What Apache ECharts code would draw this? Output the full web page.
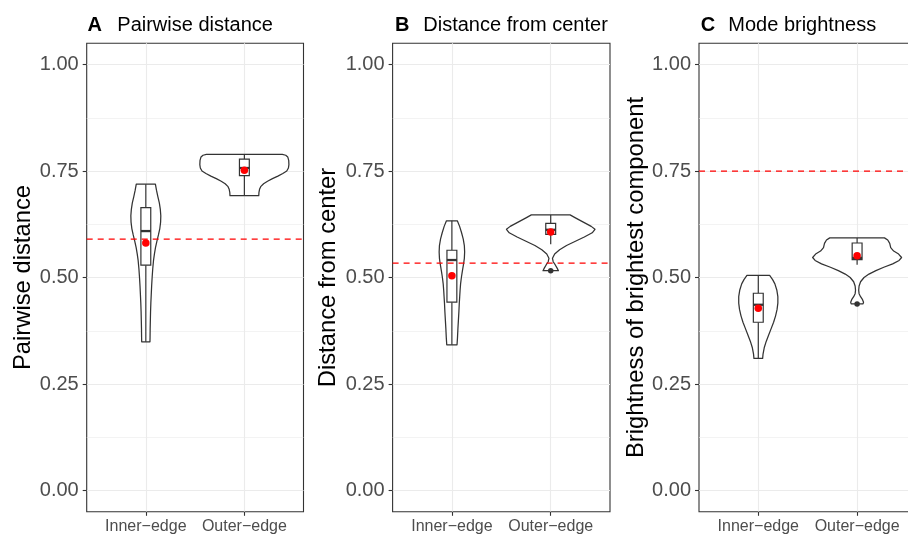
<!DOCTYPE html>
<html><head><meta charset="utf-8">
<script src="https://cdn.jsdelivr.net/npm/echarts@6/dist/echarts.min.js"></script>
<style>html,body{margin:0;padding:0;background:#fff}#c{width:908px;height:534px}</style>
</head><body><div id="c"></div>
<script>
// ---------------- data ----------------
const categories = ['Inner\u2212edge', 'Outer\u2212edge'];
const yTicks = [0, 0.25, 0.5, 0.75, 1];
const yMinorTicks = [0.125, 0.375, 0.625, 0.875];
const panelLetters = ['A', 'B', 'C'];
const panelTitles = ['Pairwise distance', 'Distance from center', 'Mode brightness'];
const yAxisNames = ['Pairwise distance', 'Distance from center', 'Brightness of brightest component'];
const refLines = [0.59, 0.534, 0.75];

// violin outlines: y values and density half-widths (in category units)
const violinA_inner_y = [0.719,0.705,0.69,0.675,0.66,0.645,0.63,0.615,0.60,0.585,0.57,0.555,0.54,0.52,0.50,0.48,0.46,0.44,0.42,0.40,0.38,0.36,0.349];
const violinA_inner_w = [0.097,0.108,0.122,0.137,0.147,0.152,0.150,0.142,0.128,0.112,0.098,0.087,0.078,0.070,0.064,0.059,0.055,0.051,0.048,0.046,0.044,0.043,0.042];
const violinA_outer_y = [0.789,0.787,0.783,0.775,0.765,0.757,0.75,0.744,0.738,0.732,0.726,0.72,0.714,0.707,0.70,0.692];
const violinA_outer_w = [0.385,0.42,0.44,0.45,0.452,0.447,0.43,0.39,0.34,0.285,0.235,0.195,0.168,0.154,0.148,0.146];
const violinB_inner_y = [0.633,0.62,0.605,0.59,0.575,0.56,0.545,0.53,0.515,0.50,0.485,0.47,0.455,0.44,0.42,0.40,0.38,0.36,0.342];
const violinB_inner_w = [0.055,0.078,0.098,0.115,0.126,0.129,0.126,0.117,0.106,0.096,0.088,0.083,0.079,0.075,0.071,0.066,0.061,0.057,0.052];
const violinB_outer_y = [0.647,0.64,0.63,0.62,0.613,0.605,0.595,0.585,0.575,0.565,0.555,0.545,0.537,0.53,0.522,0.516];
const violinB_outer_w = [0.196,0.25,0.33,0.41,0.448,0.42,0.34,0.25,0.16,0.09,0.04,0.018,0.025,0.045,0.065,0.078];
const violinC_inner_y = [0.505,0.495,0.485,0.47,0.455,0.44,0.425,0.41,0.395,0.38,0.365,0.35,0.335,0.32,0.31];
const violinC_inner_w = [0.115,0.145,0.168,0.188,0.198,0.198,0.19,0.175,0.155,0.13,0.105,0.08,0.06,0.048,0.044];
const violinC_outer_y = [0.593,0.588,0.58,0.57,0.562,0.555,0.547,0.54,0.532,0.524,0.516,0.508,0.50,0.49,0.48,0.47,0.462,0.455,0.448,0.442,0.438];
const violinC_outer_w = [0.277,0.31,0.33,0.34,0.37,0.42,0.45,0.425,0.36,0.27,0.19,0.12,0.07,0.035,0.02,0.016,0.02,0.035,0.055,0.065,0.06];

// box plots: [lower whisker, Q1, median, Q3, upper whisker]
const boxA = [[0.349,0.529,0.609,0.664,0.719],[0.692,0.739,0.757,0.778,0.788]];
const boxB = [[0.342,0.442,0.541,0.564,0.633],[0.578,0.601,0.612,0.627,0.647]];
const boxC = [[0.31,0.395,0.436,0.463,0.505],[0.53,0.542,0.546,0.581,0.593]];
// outliers: [category index (1-based), value]
const outliersA = [];
const outliersB = [[2, 0.516]];
const outliersC = [[2, 0.438]];
// means
const meanA = [0.581, 0.752];
const meanB = [0.504, 0.607];
const meanC = [0.428, 0.551];

// ---------------- build ----------------
const FONT = "'Liberation Sans', Arial, Helvetica, sans-serif";
const panels = [
  { violins: [[violinA_inner_y, violinA_inner_w], [violinA_outer_y, violinA_outer_w]], box: boxA, out: outliersA, mean: meanA },
  { violins: [[violinB_inner_y, violinB_inner_w], [violinB_outer_y, violinB_outer_w]], box: boxB, out: outliersB, mean: meanB },
  { violins: [[violinC_inner_y, violinC_inner_w], [violinC_outer_y, violinC_outer_w]], box: boxC, out: outliersC, mean: meanC }
];
const layout = [
  { left: 86.7, width: 216.8, letterX: 87.5, titleX: 117.3, nameGap: 51 },
  { left: 392.6, width: 217.4, letterX: 395, titleX: 423.3, nameGap: 52 },
  { left: 699, width: 217.4, letterX: 700.7, titleX: 728.3, nameGap: 48 }
];
const TOP = 43.2, HEIGHT = 468.6;
const INK = '#333333';

const grids = [], xAxes = [], yAxes = [], series = [], titles = [];
panels.forEach((pn, g) => {
  const L = layout[g];
  grids.push({ left: L.left, top: TOP, width: L.width, height: HEIGHT, show: true,
    borderColor: INK, borderWidth: 1.1, backgroundColor: '#fff', containLabel: false, outerBoundsMode: 'none' });
  titles.push({ text: panelLetters[g], left: L.letterX, top: 15, padding: 0,
    textStyle: { fontFamily: FONT, fontSize: 20, fontWeight: 'bold', color: '#000' } });
  titles.push({ text: panelTitles[g], left: L.titleX, top: 15, padding: 0,
    textStyle: { fontFamily: FONT, fontSize: 20, fontWeight: 'normal', color: '#000' } });
  xAxes.push({ gridIndex: g, type: 'value', min: 0.4, max: 2.6, position: 'bottom',
    axisLine: { show: false, onZero: false },
    axisTick: { show: true, customValues: [1, 2], length: 4, lineStyle: { color: INK, width: 1.1 } },
    axisLabel: { customValues: [1, 2], formatter: v => categories[Math.round(v) - 1] || '',
      fontFamily: FONT, fontSize: 16, color: '#4d4d4d', margin: 7 },
    splitLine: { show: true, lineStyle: { color: '#ebebeb', width: 1.1 } } });
  yAxes.push({ gridIndex: g, type: 'value', min: -0.05, max: 1.05, position: 'left',
    name: yAxisNames[g], nameLocation: 'middle', nameGap: L.nameGap,
    nameTextStyle: { fontFamily: FONT, fontSize: 23.8, color: '#000' },
    axisLine: { show: false, onZero: false },
    axisTick: { show: true, customValues: yTicks, length: 4, lineStyle: { color: INK, width: 1.1 } },
    axisLabel: { customValues: yTicks, formatter: v => v.toFixed(2),
      fontFamily: FONT, fontSize: 20, color: '#4d4d4d', margin: 8 },
    splitLine: { show: true, lineStyle: { color: '#ebebeb', width: 1.1 } } });
  yAxes.push({ gridIndex: g, type: 'value', min: -0.05, max: 1.05, position: 'left',
    axisLine: { show: false, onZero: false },
    axisTick: { show: false, customValues: yMinorTicks },
    axisLabel: { show: false, customValues: yMinorTicks },
    splitLine: { show: true, lineStyle: { color: '#ebebeb', width: 0.6 } } });
  const yi = g * 2;
  // violins
  series.push({ type: 'custom', xAxisIndex: g, yAxisIndex: yi, z: 2, silent: true,
    data: pn.violins.map((v, i) => [i + 1, v[0][0]]),
    renderItem: (params, api) => {
      const v = pn.violins[params.dataIndex];
      const cx = params.dataIndex + 1;
      const pts = [];
      for (let k = 0; k < v[0].length; k++) pts.push(api.coord([cx + v[1][k], v[0][k]]));
      for (let k = v[0].length - 1; k >= 0; k--) pts.push(api.coord([cx - v[1][k], v[0][k]]));
      return { type: 'polygon', shape: { points: pts },
        style: { fill: '#fff', stroke: INK, lineWidth: 1.25, lineJoin: 'round' } };
    } });
  // boxes
  series.push({ type: 'custom', xAxisIndex: g, yAxisIndex: yi, z: 3, silent: true,
    data: pn.box.map((b, i) => [i + 1, b[2]]),
    renderItem: (params, api) => {
      const b = pn.box[params.dataIndex];
      const cx = params.dataIndex + 1, hw = 0.05;
      const c = (x, y) => api.coord([x, y]);
      const top = c(cx, b[4]), q3 = c(cx - hw, b[3]), q1 = c(cx + hw, b[1]), bot = c(cx, b[0]);
      const medL = c(cx - hw, b[2]), medR = c(cx + hw, b[2]);
      const ls = { stroke: INK, lineWidth: 1.2 };
      return { type: 'group', children: [
        { type: 'line', shape: { x1: top[0], y1: top[1], x2: top[0], y2: q3[1] }, style: ls },
        { type: 'line', shape: { x1: bot[0], y1: bot[1], x2: bot[0], y2: q1[1] }, style: ls },
        { type: 'rect', shape: { x: q3[0], y: q3[1], width: q1[0] - q3[0], height: q1[1] - q3[1] },
          style: { fill: '#fff', stroke: INK, lineWidth: 1.2 } },
        { type: 'line', shape: { x1: medL[0], y1: medL[1], x2: medR[0], y2: medR[1] },
          style: { stroke: INK, lineWidth: 2.3 } }
      ] };
    } });
  // outliers
  series.push({ type: 'scatter', xAxisIndex: g, yAxisIndex: yi, z: 4, silent: true,
    data: pn.out, symbolSize: 5.5, itemStyle: { color: INK, opacity: 1 } });
  // dashed reference line
  series.push({ type: 'custom', xAxisIndex: g, yAxisIndex: yi, z: 5, silent: true,
    data: [[1, refLines[g]]],
    renderItem: (params, api) => {
      const cs = params.coordSys;
      const y = api.coord([1, api.value(1)])[1];
      return { type: 'line', shape: { x1: cs.x, y1: y, x2: cs.x + cs.width, y2: y },
        style: { stroke: '#ff0000', lineWidth: 1.25, lineDash: [6, 5] } };
    } });
  // means
  series.push({ type: 'scatter', xAxisIndex: g, yAxisIndex: yi, z: 6, silent: true,
    data: pn.mean.map((m, i) => [i + 1, m]), symbolSize: 7.5,
    itemStyle: { color: '#ff0000', opacity: 1 } });
});

const chart = echarts.init(document.getElementById('c'), null, { renderer: 'canvas' });
chart.setOption({
  animation: false,
  backgroundColor: '#fff',
  textStyle: { fontFamily: FONT },
  title: titles,
  grid: grids,
  xAxis: xAxes,
  yAxis: yAxes,
  series: series
});
</script>
</body></html>
